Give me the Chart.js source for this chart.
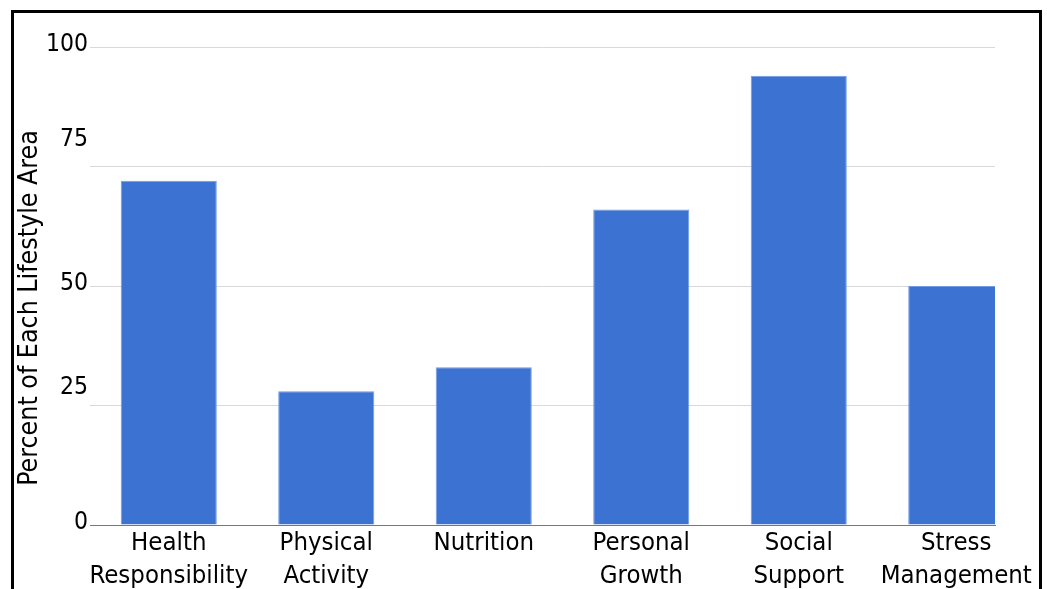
<!DOCTYPE html>
<html>
<head>
<meta charset="utf-8">
<title>Lifestyle Areas</title>
<script src="https://cdn.jsdelivr.net/npm/chart.js@4.4.0/dist/chart.umd.min.js"></script>
<style>
  html, body { margin: 0; padding: 0; background: #fff; overflow: hidden; }
  #wrap { position: relative; width: 1047px; height: 589px; }
  #chart { position: absolute; left: 0; top: 0; }
  #frame {
    position: absolute; left: 11px; top: 10px;
    width: 1025px; height: 700px;
    border: 3px solid #000; border-bottom: none;
    pointer-events: none;
  }
</style>
</head>
<body>
<div id="wrap">
  <canvas id="chart" width="1047" height="589"></canvas>
  <div id="frame"></div>
</div>
<script>
const categories = ['Health Responsibility', 'Physical Activity', 'Nutrition',
                    'Personal Growth', 'Social Support', 'Stress Management'];
const percentValues = [72, 28, 33, 66, 94, 50];
const yTicks = [0, 25, 50, 75, 100];
const yTitle = 'Percent of Each Lifestyle Area';

const FONT = '"DejaVu Sans Condensed", "DejaVu Sans", sans-serif';

// the axis title sits a bit below the middle of the plot in the original
const yTitlePlugin = {
    id: 'yTitle',
    afterDraw(chart) {
        const ctx = chart.ctx;
        ctx.save();
        ctx.translate(30, 308);
        ctx.rotate(-Math.PI / 2);
        ctx.font = '26.5px ' + FONT;
        ctx.fillStyle = '#000';
        ctx.textAlign = 'center';
        ctx.textBaseline = 'middle';
        ctx.fillText(yTitle, 0, 0);
        ctx.restore();
    }
};

const points = percentValues.map((v, i) => ({ x: i, y: v }));

const ctx = document.getElementById('chart').getContext('2d');
const myChart = new Chart(ctx, {
    type: 'bar',
    data: {
        datasets: [{
            label: yTitle,
            data: points,
            backgroundColor: '#3c72d2',
            borderColor: '#6f9be6',
            borderWidth: 1,
            categoryPercentage: 1,
            barPercentage: 0.61
        }]
    },
    options: {
        responsive: false,
        animation: false,
        devicePixelRatio: 1,
        layout: { padding: { top: 47, right: 52, left: 0, bottom: 0 } },
        plugins: {
            legend: { display: false },
            tooltip: { enabled: false }
        },
        scales: {
            x: {
                type: 'linear',
                offset: false,
                min: -0.5,
                max: 5.246,   // the last bar is cut off at the plot edge
                afterBuildTicks: (scale) => {
                    scale.ticks = categories.map((c, i) => ({ value: i }));
                },
                afterFit: (scale) => { scale.height = 64; },
                grid: { display: false, offset: false },
                border: { display: true, color: '#777', width: 1 },
                ticks: {
                    autoSkip: false,
                    maxRotation: 0,
                    minRotation: 0,
                    padding: -6,
                    color: '#000',
                    font: { family: FONT, size: 25.5, lineHeight: 1.3 },
                    callback: (value) => categories[value] ? categories[value].split(' ') : ''
                }
            },
            y: {
                min: 0,
                max: 100,
                afterBuildTicks: (scale) => {
                    scale.ticks = yTicks.map(v => ({ value: v }));
                },
                afterFit: (scale) => { scale.width = 90; },
                grid: { color: '#d9d9d9', lineWidth: 1, drawTicks: false },
                border: { display: false },
                ticks: {
                    autoSkip: false,
                    padding: 2,
                    labelOffset: -2,
                    color: '#000',
                    // some labels sit higher above their gridline in the original
                    font: (c) => {
                        const v = c.tick ? c.tick.value : null;
                        let lh = 1.2;
                        if (v === 75) lh = '50px';
                        if (v === 25) lh = '32px';
                        return { family: FONT, size: 24.5, lineHeight: lh };
                    },
                    callback: (value) => (value === 75 || value === 25) ? [String(value), ''] : String(value)
                }
            }
        }
    },
    plugins: [yTitlePlugin]
});
</script>
</body>
</html>
